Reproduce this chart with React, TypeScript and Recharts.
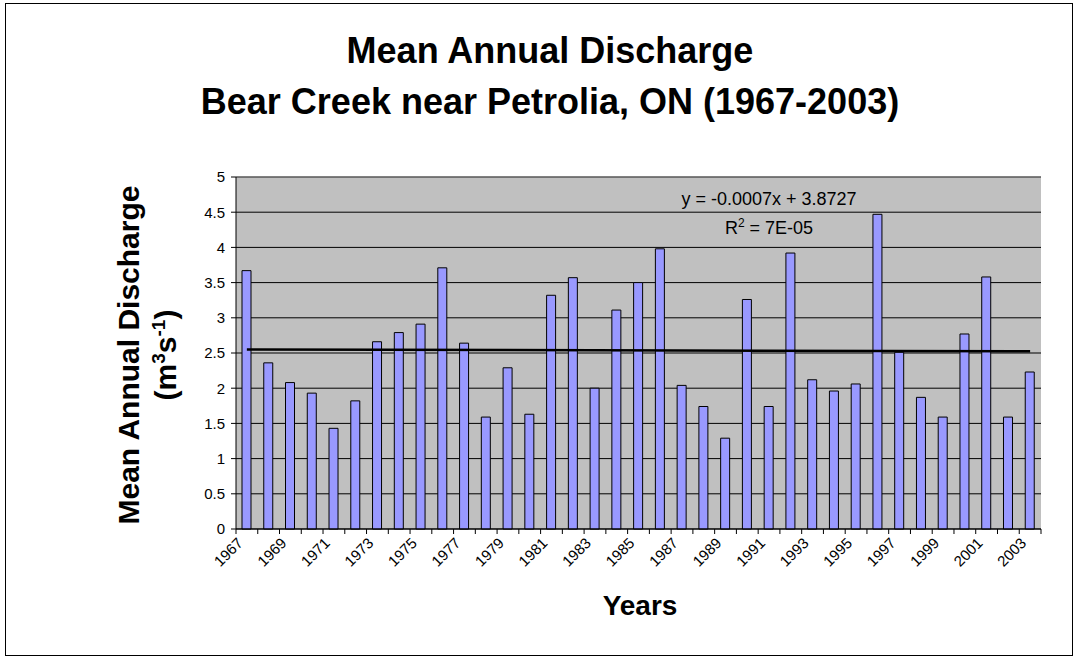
import React from "react";
import {
  Bar,
  CartesianGrid,
  ComposedChart,
  ReferenceLine,
  XAxis,
  YAxis,
} from "recharts";

const years = [
  "1967", "1968", "1969", "1970", "1971", "1972", "1973", "1974", "1975",
  "1976", "1977", "1978", "1979", "1980", "1981", "1982", "1983", "1984", "1985",
  "1986", "1987", "1988", "1989", "1990", "1991", "1992", "1993", "1994", "1995",
  "1996", "1997", "1998", "1999", "2000", "2001", "2002", "2003",
];

// mean annual discharge, m3/s
const discharge = [
  3.67, 2.36, 2.08, 1.93, 1.43, 1.82, 2.66, 2.79, 2.91,
  3.71, 2.64, 1.59, 2.29, 1.63, 3.32, 3.57, 2.0, 3.11, 3.5,
  3.98, 2.04, 1.74, 1.29, 3.26, 1.74, 3.92, 2.12, 1.96, 2.06,
  4.47, 2.51, 1.87, 1.59, 2.77, 3.58, 1.59, 2.23,
];

const yTicks = [0, 0.5, 1, 1.5, 2, 2.5, 3, 3.5, 4, 4.5, 5];

// linear trend as drawn, first and last year
const trendStart = 2.55;
const trendEnd = 2.525;

const W = 1083;
const H = 661;
const margin = { top: 177, right: 42, bottom: 72, left: 196 };
const yAxisWidth = 40;
const xAxisHeight = 60;
const plotWidth = W - margin.left - margin.right - yAxisWidth;
const band = plotWidth / years.length;

const FONT = "'Liberation Sans', Arial, Helvetica, sans-serif";

const chartData = years.map((year, i) => ({ year, value: discharge[i] }));

function YearTick(props: any) {
  const { x, y, payload, index } = props;
  const half = band / 2;
  const tx = x - 3;
  const ty = y + 15;
  return (
    <g>
      <line x1={x - half} x2={x - half} y1={y} y2={y + 5} stroke="#000" />
      {index === years.length - 1 && (
        <line x1={x + half} x2={x + half} y1={y} y2={y + 5} stroke="#000" />
      )}
      {index % 2 === 0 && (
        <text
          x={tx}
          y={ty}
          transform={`rotate(-45 ${tx} ${ty})`}
          textAnchor="end"
          fontSize={15}
          fontFamily={FONT}
          fill="#000"
        >
          {payload.value}
        </text>
      )}
    </g>
  );
}

export default function App() {
  return (
    <div style={{ position: "absolute", left: 0, top: 0, width: W, height: H, background: "#fff" }}>
      <ComposedChart width={W} height={H} data={chartData} margin={margin}>
        <CartesianGrid vertical={false} stroke="#000" fill="#C0C0C0" fillOpacity={1} />
        <XAxis
          dataKey="year"
          interval={0}
          height={xAxisHeight}
          tickSize={0}
          tickMargin={0}
          tickLine={false}
          axisLine={{ stroke: "#000" }}
          tick={<YearTick />}
        />
        <YAxis
          domain={[0, 5]}
          ticks={yTicks}
          width={yAxisWidth}
          tickSize={5}
          tickMargin={6}
          axisLine={{ stroke: "#000" }}
          tickLine={{ stroke: "#000" }}
          tick={{ fontSize: 15, fontFamily: FONT, fill: "#000" }}
        />
        <YAxis
          yAxisId="right"
          orientation="right"
          domain={[0, 5]}
          width={0}
          tick={false}
          tickLine={false}
          axisLine={{ stroke: "#808080" }}
        />
        <ReferenceLine y={5} stroke="#808080" />
        <Bar
          dataKey="value"
          fill="#9999FF"
          stroke="#000"
          strokeWidth={1}
          barSize={9}
          isAnimationActive={false}
        />
        <ReferenceLine
          segment={[
            { x: years[0], y: trendStart },
            { x: years[years.length - 1], y: trendEnd },
          ]}
          stroke="#000"
          strokeWidth={2.5}
        />
      </ComposedChart>
      <svg
        width={W}
        height={H}
        style={{ position: "absolute", left: 0, top: 0, pointerEvents: "none" }}
        fontFamily={FONT}
      >
        <rect x={5.5} y={3.5} width={1067} height={652} fill="none" stroke="#000" />
        <text x={550} y={63} textAnchor="middle" fontSize={36} fontWeight="bold">
          Mean Annual Discharge
        </text>
        <text x={550} y={114} textAnchor="middle" fontSize={36} fontWeight="bold">
          Bear Creek near Petrolia, ON (1967-2003)
        </text>
        <text
          x={139}
          y={355}
          textAnchor="middle"
          fontSize={30}
          fontWeight="bold"
          transform="rotate(-90 139 355)"
        >
          Mean Annual Discharge
        </text>
        <text
          x={176}
          y={355}
          textAnchor="middle"
          fontSize={30}
          fontWeight="bold"
          transform="rotate(-90 176 355)"
        >
          (m<tspan dy={-11} fontSize={19}>3</tspan>
          <tspan dy={11}>s</tspan>
          <tspan dy={-11} fontSize={19}>-1</tspan>
          <tspan dy={11}>)</tspan>
        </text>
        <text x={640} y={615} textAnchor="middle" fontSize={28} fontWeight="bold">
          Years
        </text>
        <text x={769} y={205} textAnchor="middle" fontSize={18}>
          y = -0.0007x + 3.8727
        </text>
        <text x={769} y={234} textAnchor="middle" fontSize={18}>
          R<tspan dy={-7} fontSize={12}>2</tspan>
          <tspan dy={7}> = 7E-05</tspan>
        </text>
      </svg>
    </div>
  );
}
